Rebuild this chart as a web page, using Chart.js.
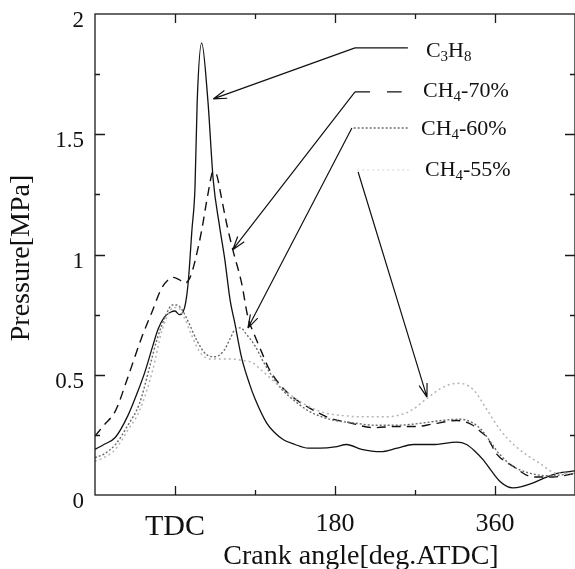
<!DOCTYPE html>
<html lang="en">
<head>
<meta charset="UTF-8" />
<title>Pressure vs Crank angle</title>
<script src="https://cdn.jsdelivr.net/npm/chart.js"></script>
<style>
  html, body { margin: 0; padding: 0; background: #fff; }
  #wrap { width: 575px; height: 569px; }
</style>
</head>
<body>
<div id="wrap"><canvas id="chart" width="575" height="569"></canvas></div>
<script>
// crank angle [deg ATDC] and pressure [MPa]
const c3h8Angle = [-90, -80, -67, -53, -43, -34, -25, -19, -12, -5, 0, 5, 9, 12, 15, 19, 22.5, 25, 30, 37, 43, 50, 56, 62, 67, 75, 84, 90, 103, 112, 122, 135, 150, 163, 180, 193, 210, 231, 250, 268, 290, 317, 328, 338, 347, 356, 366, 374, 380, 390, 403, 415, 430, 450];
const c3h8P     = [0.19, 0.21, 0.24, 0.33, 0.42, 0.51, 0.62, 0.69, 0.74, 0.76, 0.765, 0.75, 0.76, 0.80, 0.89, 1.10, 1.28, 1.64, 1.88, 1.64, 1.31, 1.12, 0.98, 0.81, 0.72, 0.57, 0.46, 0.40, 0.30, 0.26, 0.23, 0.21, 0.195, 0.195, 0.20, 0.21, 0.19, 0.18, 0.195, 0.21, 0.21, 0.22, 0.21, 0.18, 0.145, 0.10, 0.055, 0.035, 0.03, 0.035, 0.05, 0.07, 0.09, 0.10];

const ch4_70Angle = [-90, -80, -67, -53, -37, -26, -15, -6, -2, 5, 11, 17, 22, 30, 37, 43, 47, 51, 58, 65, 75, 82, 90, 98, 105, 120, 135, 152, 174, 197, 223, 250, 272, 290, 317, 335, 345, 351, 362, 380, 403, 425, 450];
const ch4_70P     = [0.245, 0.29, 0.35, 0.49, 0.66, 0.76, 0.86, 0.90, 0.905, 0.895, 0.88, 0.905, 0.965, 1.10, 1.25, 1.345, 1.33, 1.26, 1.13, 1.02, 0.88, 0.74, 0.66, 0.59, 0.53, 0.45, 0.40, 0.36, 0.32, 0.30, 0.28, 0.285, 0.285, 0.295, 0.31, 0.29, 0.26, 0.24, 0.17, 0.12, 0.075, 0.075, 0.09];

const ch4_60Angle = [-90, -80, -67, -53, -40, -28, -20, -10, -3, 2, 8, 15, 25, 35, 45, 55, 62, 68, 74, 80, 90, 100, 110, 120, 135, 150, 165, 180, 200, 225, 250, 280, 300, 320, 335, 345, 355, 365, 380, 400, 420, 450];
const ch4_60P     = [0.155, 0.17, 0.21, 0.29, 0.38, 0.54, 0.65, 0.75, 0.79, 0.79, 0.77, 0.72, 0.64, 0.585, 0.575, 0.60, 0.65, 0.69, 0.695, 0.67, 0.62, 0.55, 0.49, 0.44, 0.39, 0.35, 0.325, 0.31, 0.30, 0.29, 0.29, 0.30, 0.31, 0.315, 0.30, 0.27, 0.22, 0.17, 0.12, 0.09, 0.08, 0.09];

const ch4_55Angle = [-90, -80, -67, -53, -40, -25, -15, -5, 0, 3, 10, 18, 27, 35, 45, 55, 65, 75, 87, 100, 112, 125, 140, 155, 170, 190, 210, 230, 250, 265, 283, 300, 318, 335, 350, 366, 384, 411, 430, 450];
const ch4_55P     = [0.14, 0.155, 0.19, 0.27, 0.35, 0.52, 0.68, 0.77, 0.78, 0.78, 0.74, 0.67, 0.60, 0.57, 0.565, 0.565, 0.565, 0.56, 0.55, 0.51, 0.47, 0.43, 0.39, 0.36, 0.34, 0.33, 0.325, 0.325, 0.33, 0.35, 0.40, 0.445, 0.465, 0.44, 0.36, 0.27, 0.20, 0.13, 0.09, 0.09];

// x tick labels
const xTickLabels = { 0: 'TDC', 180: '180', 360: '360' };

// call-out legend: label parts [text, isSubscript]
const seriesNames = [
  [['C', 0], ['3', 1], ['H', 0], ['8', 1]],
  [['CH', 0], ['4', 1], ['-70%', 0]],
  [['CH', 0], ['4', 1], ['-60%', 0]],
  [['CH', 0], ['4', 1], ['-55%', 0]]
];
// where each call-out sits and points, in axis units (deg, MPa)
const legendLineFrom = [[202.5, 1.859], [202.5, 1.676], [201, 1.526], [205, 1.351]];
const legendLineTo   = [[262, 1.859], [255, 1.676], [263, 1.526], [263, 1.351]];
const labelAt        = [[282.3, 1.821], [279, 1.655], [276.7, 1.497], [281.2, 1.326]];
const arrowFrom      = [[202.5, 1.859], [202.5, 1.676], [199, 1.526], [206, 1.343]];
const arrowTo        = [[43, 1.647], [65, 1.02], [82, 0.694], [283.5, 0.407]];

const serif = '"Liberation Serif", "Times New Roman", serif';

const styles = [
  { color: '#111', width: 1.3, dash: [] },
  { color: '#111', width: 1.4, dash: [9, 6] },
  { color: '#6a6a6a', width: 1.4, dash: [2, 2] },
  { color: '#b4b4b4', width: 1.5, dash: [2, 3] }
];

function pts(a, p) { return a.map((v, i) => ({ x: v, y: p[i] })); }

const frame = {
  id: 'frame',
  afterDatasetsDraw(chart) {
    const { ctx, chartArea: a, scales: { x, y } } = chart;
    ctx.save();
    ctx.strokeStyle = '#1a1a1a';
    ctx.lineWidth = 1.3;
    ctx.setLineDash([]);
    ctx.strokeRect(a.left, a.top, a.right - a.left, a.bottom - a.top);
    ctx.beginPath();
    x.ticks.forEach(t => {
      if (t.value <= x.min || t.value >= x.max) return;
      const px = Math.round(x.getPixelForValue(t.value)) + 0.5;
      const len = t.value % 180 === 0 ? 9 : 5;
      ctx.moveTo(px, a.bottom); ctx.lineTo(px, a.bottom - len);
      ctx.moveTo(px, a.top); ctx.lineTo(px, a.top + len);
    });
    y.ticks.forEach(t => {
      if (t.value <= y.min || t.value >= y.max) return;
      const py = Math.round(y.getPixelForValue(t.value)) + 0.5;
      const major = Math.abs(t.value * 2 - Math.round(t.value * 2)) < 1e-6;
      const len = major ? 10 : 5;
      ctx.moveTo(a.left, py); ctx.lineTo(a.left + len, py);
      ctx.moveTo(a.right, py); ctx.lineTo(a.right - len, py);
    });
    ctx.stroke();

    // axis titles
    ctx.fillStyle = '#111';
    ctx.font = '28px ' + serif;
    ctx.textAlign = 'center';
    ctx.textBaseline = 'middle';
    ctx.fillText('Crank angle[deg.ATDC]', a.left + 266, 557);
    ctx.save();
    ctx.translate(22, 258);
    ctx.rotate(-Math.PI / 2);
    ctx.fillText('Pressure[MPa]', 0, 0);
    ctx.restore();

    // call-outs
    const P = q => [x.getPixelForValue(q[0]), y.getPixelForValue(q[1])];
    seriesNames.forEach((parts, i) => {
      const s = styles[i];
      const l0 = P(legendLineFrom[i]), l1 = P(legendLineTo[i]);
      ctx.strokeStyle = i === 3 ? '#e2e2e2' : s.color;
      ctx.lineWidth = s.width;
      ctx.setLineDash(i === 1 ? [15, 17] : s.dash);
      ctx.beginPath(); ctx.moveTo(l0[0], l0[1]); ctx.lineTo(l1[0], l1[1]); ctx.stroke();

      const f = P(arrowFrom[i]), e = P(arrowTo[i]);
      ctx.strokeStyle = '#111';
      ctx.lineWidth = 1.2;
      ctx.setLineDash([]);
      ctx.beginPath(); ctx.moveTo(f[0], f[1]); ctx.lineTo(e[0], e[1]);
      const ang = Math.atan2(e[1] - f[1], e[0] - f[0]);
      [-0.3, 0.3].forEach(d => {
        ctx.moveTo(e[0], e[1]);
        ctx.lineTo(e[0] - 14 * Math.cos(ang + d), e[1] - 14 * Math.sin(ang + d));
      });
      ctx.stroke();

      const lp = P(labelAt[i]);
      let cx = lp[0];
      ctx.textAlign = 'left';
      ctx.textBaseline = 'alphabetic';
      ctx.fillStyle = '#111';
      parts.forEach(([txt, sub]) => {
        ctx.font = (sub ? '15px ' : '22px ') + serif;
        ctx.fillText(txt, cx, lp[1] + (sub ? 4 : 0));
        cx += ctx.measureText(txt).width;
      });
    });
    ctx.restore();
  }
};

const allSeries = [pts(c3h8Angle, c3h8P), pts(ch4_70Angle, ch4_70P), pts(ch4_60Angle, ch4_60P), pts(ch4_55Angle, ch4_55P)];
const labels = ['C3H8', 'CH4-70%', 'CH4-60%', 'CH4-55%'];

new Chart(document.getElementById('chart'), {
  type: 'line',
  data: {
    datasets: allSeries.map((d, i) => ({
      label: labels[i],
      data: d,
      borderColor: styles[i].color,
      borderWidth: styles[i].width,
      borderDash: styles[i].dash,
      pointRadius: 0,
      fill: false,
      cubicInterpolationMode: 'monotone'
    })).reverse()
  },
  options: {
    responsive: false,
    animation: false,
    layout: { autoPadding: false, padding: { top: 14, right: 0, left: 0, bottom: 0 } },
    plugins: { legend: { display: false }, tooltip: { enabled: false } },
    scales: {
      x: {
        type: 'linear', min: -90, max: 450,
        grid: { display: false, drawTicks: false },
        border: { display: false },
        afterFit: s => { s.height = 74; s.paddingLeft = 0; s.paddingRight = 0; },
        ticks: {
          stepSize: 90, autoSkip: false, maxRotation: 0, padding: 14, color: '#111',
          font: c => ({ family: serif, size: c.tick && c.tick.value === 0 ? 30 : 26 }),
          callback: v => xTickLabels[v] || ''
        }
      },
      y: {
        min: 0, max: 2,
        grid: { display: false, drawTicks: false },
        border: { display: false },
        afterFit: s => { s.width = 95; s.paddingTop = 0; s.paddingBottom = 0; },
        ticks: {
          stepSize: 0.25, autoSkip: false, padding: 11, labelOffset: 7, color: '#111',
          font: { family: serif, size: 23 },
          callback: v => (Math.abs(v * 2 - Math.round(v * 2)) < 1e-6 ? String(v) : '')
        }
      }
    }
  },
  plugins: [frame]
});
</script>
</body>
</html>
